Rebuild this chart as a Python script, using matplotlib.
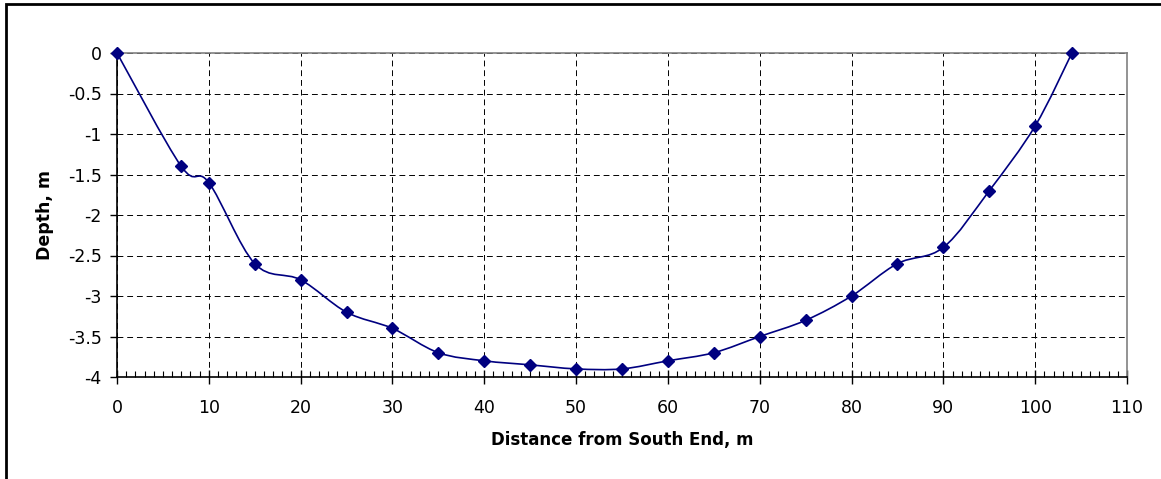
import numpy as np
import matplotlib
matplotlib.use('Agg')
import matplotlib.pyplot as plt
from matplotlib.path import Path
from matplotlib.patches import PathPatch, Rectangle
from matplotlib.ticker import MultipleLocator

plt.rcParams['font.family'] = ['DejaVu Sans']

# Dados do perfil
distancia = [0, 7, 10, 15, 20, 25, 30, 35, 40, 45, 50, 55, 60, 65, 70, 75, 80, 85, 90, 95, 100, 104]
profundidade = [0, -1.4, -1.6, -2.6, -2.8, -3.2, -3.4, -3.7, -3.8, -3.85, -3.9, -3.9, -3.8, -3.7,
                -3.5, -3.3, -3.0, -2.6, -2.4, -1.7, -0.9, 0]

cor = '#000080'

fig = plt.figure(figsize=(11.61, 4.79), dpi=100)
ax = fig.add_axes([117 / 1161, 102 / 479, 1010 / 1161, 324 / 479])

# moldura externa (estilo Excel)
fig.patches.append(Rectangle((6 / 1161, -0.1), 1.2, 1.1 - 4 / 479, transform=fig.transFigure,
                             fill=False, edgecolor='black', linewidth=2))

# linha suavizada com curvas de Bezier (como no Excel)
pts = np.column_stack([distancia, profundidade]).astype(float)
ext = np.vstack([pts[0], pts, pts[-1]])
verts = [tuple(pts[0])]
codes = [Path.MOVETO]
for i in range(1, len(ext) - 2):
    p0, p1, p2, p3 = ext[i - 1], ext[i], ext[i + 1], ext[i + 2]
    c1 = p1 + (p2 - p0) / 6
    c2 = p2 - (p3 - p1) / 6
    verts += [tuple(c1), tuple(c2), tuple(p2)]
    codes += [Path.CURVE4] * 3
ax.add_patch(PathPatch(Path(verts, codes), facecolor='none', edgecolor=cor, linewidth=1.2, zorder=3))
ax.plot(distancia, profundidade, linestyle='none', marker='D', markersize=6, color=cor, zorder=4,
        clip_on=False)

ax.set_xlim(0, 110)
ax.set_ylim(-4, 0)
ax.xaxis.set_major_locator(MultipleLocator(10))
ax.xaxis.set_minor_locator(MultipleLocator(1))
ax.yaxis.set_major_locator(MultipleLocator(0.5))
ax.set_yticklabels([f'{v:g}' for v in ax.get_yticks()])

ax.tick_params(axis='x', which='major', direction='inout', length=10, width=1, labelsize=12.5, pad=11)
ax.tick_params(axis='x', which='minor', direction='in', length=4, width=0.8)
ax.tick_params(axis='y', which='major', direction='out', length=5, width=1, labelsize=12.5, pad=6)

ax.grid(True, which='major', color='black', linestyle=(0, (6, 4)), linewidth=0.7)
ax.set_axisbelow(True)

for lado in ['top', 'right']:
    ax.spines[lado].set_color('#808080')
    ax.spines[lado].set_linewidth(1.2)
for lado in ['left', 'bottom']:
    ax.spines[lado].set_color('black')
    ax.spines[lado].set_linewidth(1.2)

ax.set_xlabel('Distance from South End, m', fontsize=12, fontweight='bold', labelpad=10)
ax.set_ylabel('Depth, m', fontsize=12.5, fontweight='bold', labelpad=10)

plt.savefig('out.png', dpi=100)
